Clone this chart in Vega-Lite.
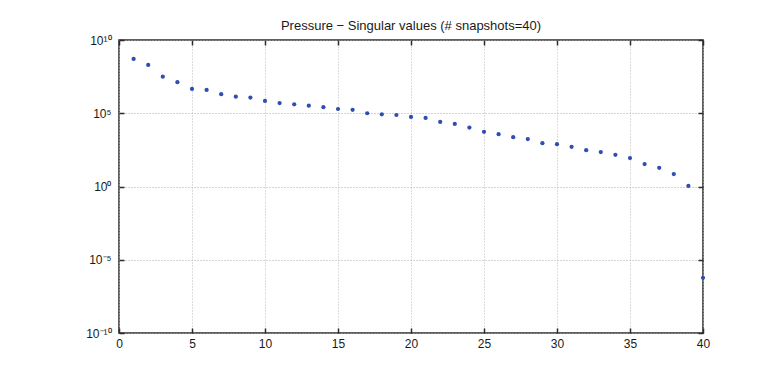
{
  "$schema": "https://vega.github.io/schema/vega-lite/v6.json",
  "width": 584,
  "height": 293,
  "autosize": {"type": "none"},
  "padding": {"left": 119, "top": 40, "right": 73, "bottom": 43},
  "background": "white",
  "title": {
    "text": "Pressure − Singular values (# snapshots=40)",
    "fontSize": 13,
    "fontWeight": "normal",
    "font": "Liberation Sans",
    "color": "#1a1a1a",
    "offset": 1
  },
  "config": {
    "view": {"stroke": "#2b2b2b", "strokeWidth": 1.5},
    "axis": {
      "labelFont": "Liberation Sans",
      "labelFontSize": 12,
      "labelColor": "#1a1a1a",
      "domain": false,
      "tickColor": "#2b2b2b",
      "tickWidth": 1.5,
      "tickSize": -5,
      "title": null
    }
  },
  "data": {
    "values": [
      {"n": 1, "s": 5.13e8},
      {"n": 2, "s": 2.0e8},
      {"n": 3, "s": 3.16e7},
      {"n": 4, "s": 1.32e7},
      {"n": 5, "s": 4.57e6},
      {"n": 6, "s": 3.89e6},
      {"n": 7, "s": 2.0e6},
      {"n": 8, "s": 1.35e6},
      {"n": 9, "s": 1.17e6},
      {"n": 10, "s": 6.9e5},
      {"n": 11, "s": 5.0e5},
      {"n": 12, "s": 4.07e5},
      {"n": 13, "s": 3.3e5},
      {"n": 14, "s": 2.57e5},
      {"n": 15, "s": 1.95e5},
      {"n": 16, "s": 1.7e5},
      {"n": 17, "s": 1.0e5},
      {"n": 18, "s": 8.5e4},
      {"n": 19, "s": 7.6e4},
      {"n": 20, "s": 5.6e4},
      {"n": 21, "s": 4.8e4},
      {"n": 22, "s": 2.57e4},
      {"n": 23, "s": 1.86e4},
      {"n": 24, "s": 1.05e4},
      {"n": 25, "s": 5.4e3},
      {"n": 26, "s": 3.7e3},
      {"n": 27, "s": 2.34e3},
      {"n": 28, "s": 1.74e3},
      {"n": 29, "s": 912},
      {"n": 30, "s": 776},
      {"n": 31, "s": 513},
      {"n": 32, "s": 302},
      {"n": 33, "s": 224},
      {"n": 34, "s": 145},
      {"n": 35, "s": 87},
      {"n": 36, "s": 34},
      {"n": 37, "s": 19},
      {"n": 38, "s": 7.1},
      {"n": 39, "s": 1.1},
      {"n": 40, "s": 5.9e-7}
    ]
  },
  "layer": [
    {
      "mark": {"type": "point", "filled": true, "size": 18, "color": "#2f4fb0", "opacity": 1},
      "encoding": {
        "x": {
          "field": "n",
          "type": "quantitative",
          "scale": {"domain": [0, 40], "nice": false},
          "axis": {
            "orient": "bottom",
            "values": [0, 5, 10, 15, 20, 25, 30, 35, 40],
            "labelPadding": 10,
            "labelFlush": false,
            "grid": true,
            "gridColor": "#b8b8b8",
            "gridDash": [1, 2],
            "gridWidth": 1
          }
        },
        "y": {
          "field": "s",
          "type": "quantitative",
          "scale": {"type": "log", "domain": [1e-10, 1e10], "nice": false},
          "axis": {
            "orient": "left",
            "values": [1e-10, 1e-5, 1, 1e5, 1e10],
            "labelExpr": "datum.value >= 1e9 ? '10¹⁰' : datum.value >= 1e4 ? '10⁵' : datum.value >= 0.1 ? '10⁰' : datum.value >= 1e-6 ? '10⁻⁵' : '10⁻¹⁰'",
            "labelPadding": 13,
            "labelFlush": false,
            "grid": true,
            "gridColor": "#a8a8a8",
            "gridDash": [1, 2],
            "gridWidth": 1
          }
        }
      }
    },
    {
      "mark": {"type": "point", "opacity": 0},
      "encoding": {
        "x": {
          "field": "n",
          "type": "quantitative",
          "axis": {
            "orient": "top",
            "values": [0, 5, 10, 15, 20, 25, 30, 35, 40],
            "labels": false,
            "grid": false
          }
        },
        "y": {
          "field": "s",
          "type": "quantitative",
          "axis": {
            "orient": "right",
            "values": [1e-10, 1e-5, 1, 1e5, 1e10],
            "labels": false,
            "grid": false
          }
        }
      }
    }
  ],
  "resolve": {"axis": {"x": "independent", "y": "independent"}}
}
